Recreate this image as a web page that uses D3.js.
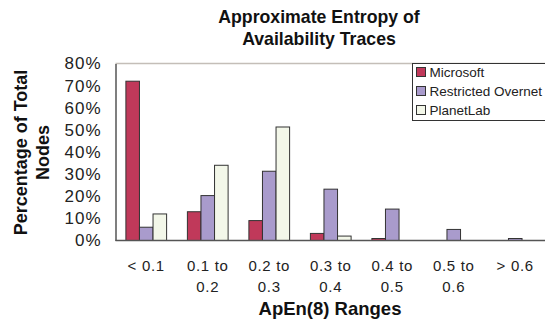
<!DOCTYPE html>
<html>
<head>
<meta charset="utf-8">
<script src="https://cdn.jsdelivr.net/npm/d3@7"></script>
<style>
  html, body { margin: 0; padding: 0; background: #fff; }
  svg { display: block; font-family: Arial, "Liberation Sans", sans-serif; }
</style>
</head>
<body>
<svg id="chart" width="545" height="322"></svg>
<script>
// ApEn(8) range buckets
const categories = [["< 0.1"], ["0.1 to", "0.2"], ["0.2 to", "0.3"], ["0.3 to", "0.4"], ["0.4 to", "0.5"], ["0.5 to", "0.6"], ["> 0.6"]];
const seriesNames = ["Microsoft", "Restricted Overnet", "PlanetLab"];
// Percentage of nodes per bucket
const microsoft = [72, 13, 9, 3.2, 0.9, 0, 0];
const overnet = [6, 20.3, 31.3, 23.2, 14.2, 5, 0.9];
const planetlab = [12, 34, 51.3, 2, 0, 0, 0];
const yTicks = [0, 10, 20, 30, 40, 50, 60, 70, 80];
const colors = ["#c0395a", "#a99bcc", "#f3f7e9"];

const seriesValues = [microsoft, overnet, planetlab];
const svg = d3.select("#chart");
const margin = { left: 115.5, right: 546, top: 63.5, bottom: 240.5 };

const x = d3.scaleBand().domain(d3.range(categories.length))
  .range([margin.left, margin.right]).paddingInner(0.338).paddingOuter(0.169);
const xs = d3.scaleBand().domain(d3.range(seriesNames.length)).range([0, x.bandwidth()]);
const y = d3.scaleLinear().domain([0, 80]).range([margin.bottom, margin.top]);

// Title
svg.append("text").attr("x", 319).attr("y", 23).attr("text-anchor", "middle")
  .attr("font-size", 17.7).attr("font-weight", "bold").attr("fill", "#111")
  .text("Approximate Entropy of");
svg.append("text").attr("x", 319).attr("y", 45).attr("text-anchor", "middle")
  .attr("font-size", 17.7).attr("font-weight", "bold").attr("fill", "#111")
  .text("Availability Traces");

// Plot frame top line
svg.append("line").attr("x1", margin.left).attr("x2", margin.right)
  .attr("y1", margin.top).attr("y2", margin.top)
  .attr("stroke", "#c4beb8").attr("stroke-width", 1.5);

// Bars
const groups = svg.append("g").selectAll("g")
  .data(categories.map((c, i) => i)).join("g")
  .attr("transform", i => `translate(${x(i)},0)`);
groups.selectAll("rect")
  .data(i => seriesValues.map((vals, s) => ({ s, v: vals[i] })).filter(d => d.v > 0))
  .join("rect")
  .attr("x", d => xs(d.s))
  .attr("y", d => y(d.v))
  .attr("width", xs.bandwidth())
  .attr("height", d => y(0) - y(d.v))
  .attr("fill", d => colors[d.s])
  .attr("stroke", "#333").attr("stroke-width", 1);

// Y axis
const yAxis = svg.append("g").attr("transform", `translate(${margin.left},0)`)
  .call(d3.axisLeft(y).tickValues(yTicks).tickSize(0).tickPadding(14).tickFormat(d => d + "%"));
yAxis.select(".domain").attr("stroke", "#555").attr("stroke-width", 1.5);
yAxis.selectAll("text").attr("font-size", 17).attr("letter-spacing", 1).attr("fill", "#222")
  .attr("font-family", "Arial, 'Liberation Sans', sans-serif");

// X axis line
svg.append("line").attr("x1", margin.left).attr("x2", margin.right)
  .attr("y1", margin.bottom).attr("y2", margin.bottom)
  .attr("stroke", "#555").attr("stroke-width", 1.5);

// X labels
const xl = svg.append("g").selectAll("text").data(categories).join("text")
  .attr("text-anchor", "middle").attr("font-size", 15).attr("letter-spacing", 0.7).attr("fill", "#222")
  .attr("transform", (d, i) => `translate(${x(i) + x.bandwidth() / 2},271)`);
xl.selectAll("tspan").data(d => d).join("tspan")
  .attr("x", 0).attr("dy", (d, j) => j === 0 ? 0 : 20.5).text(d => d);

// Axis titles
svg.append("text").attr("x", 330).attr("y", 315).attr("text-anchor", "middle")
  .attr("font-size", 18.5).attr("font-weight", "bold").attr("fill", "#111")
  .text("ApEn(8) Ranges");
const yt = svg.append("text").attr("transform", "translate(27,152.5) rotate(-90)")
  .attr("text-anchor", "middle").attr("font-size", 18).attr("font-weight", "bold").attr("fill", "#111");
yt.append("tspan").attr("x", 0).attr("dy", 0).text("Percentage of Total");
yt.append("tspan").attr("x", 0).attr("dy", 22).text("Nodes");

// Legend
const lg = svg.append("g");
lg.append("rect").attr("x", 412.5).attr("y", 63.5).attr("width", 140).attr("height", 57)
  .attr("fill", "#fff").attr("stroke", "#333").attr("stroke-width", 1);
const items = lg.selectAll("g.item").data(seriesNames).join("g")
  .attr("transform", (d, i) => `translate(416.5,${72 + i * 19})`);
items.append("rect").attr("x", 0).attr("y", -4.5).attr("width", 9).attr("height", 9)
  .attr("fill", (d, i) => colors[i]).attr("stroke", "#333").attr("stroke-width", 1);
items.append("text").attr("x", 13).attr("y", 5).attr("font-size", 13.5).attr("fill", "#222")
  .text(d => d);
</script>
</body>
</html>
